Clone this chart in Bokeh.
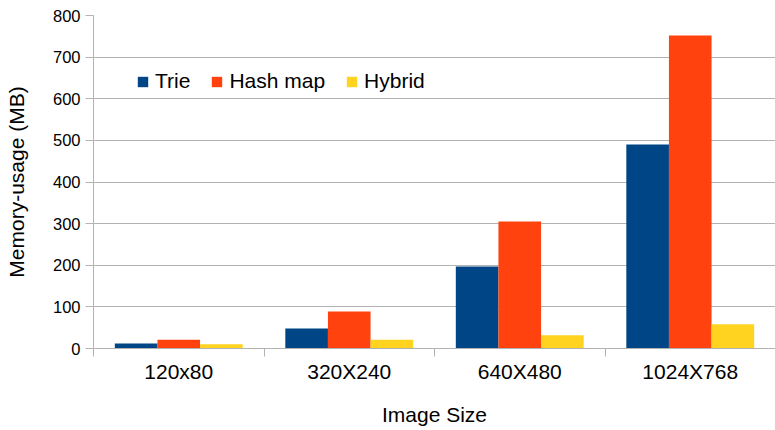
from bokeh.plotting import figure
from bokeh.models import ColumnDataSource, FixedTicker, Legend, LegendItem
from bokeh.embed import file_html
from bokeh.resources import INLINE

# Memory usage (MB) per image size for each data structure
categories = ["120x80", "320X240", "640X480", "1024X768"]
trie = [12, 48, 197, 490]
hash_map = [21, 89, 305, 752]
hybrid = [10, 21, 32, 58]
series_names = ["Trie", "Hash map", "Hybrid"]
y_ticks = [0, 100, 200, 300, 400, 500, 600, 700, 800]

colors = ["#004586", "#ff420e", "#ffd320"]
FONT = "Liberation Sans"
GRID = "#b3b3b3"

n = len(categories)
centers = [i + 0.5 for i in range(n)]
bar_w = 0.25
offsets = [-bar_w, 0.0, bar_w]

p = figure(
    width=775, height=430,
    x_range=(0, n), y_range=(y_ticks[0], y_ticks[-1]),
    output_backend="svg", toolbar_location=None,
    min_border_left=93, min_border_right=0,
    min_border_top=15, min_border_bottom=82,
)
p.outline_line_color = None
p.background_fill_color = "white"

items = []
for name, vals, off, col in zip(series_names, [trie, hash_map, hybrid], offsets, colors):
    src = ColumnDataSource(dict(x=[c + off for c in centers], top=vals))
    r = p.vbar(x="x", top="top", width=bar_w, source=src,
               fill_color=col, line_color=None)
    items.append(LegendItem(label=name, renderers=[r]))

legend = Legend(items=items, orientation="horizontal", location=(43, 255),
                glyph_width=13, glyph_height=13, label_standoff=6, spacing=20,
                padding=0, margin=0, border_line_color=None,
                background_fill_alpha=0, label_text_font=FONT,
                label_text_font_size="21px", label_text_color="#000000")
p.add_layout(legend)

# x axis: category labels centred, separator ticks at group boundaries
p.xaxis.ticker = FixedTicker(ticks=centers, minor_ticks=list(range(n + 1)))
p.xaxis.major_label_overrides = {c: lab for c, lab in zip(centers, categories)}
p.xaxis.major_tick_out = 0
p.xaxis.major_tick_in = 0
p.xaxis.minor_tick_out = 8
p.xaxis.minor_tick_in = 0
p.xaxis.minor_tick_line_color = GRID
p.xaxis.axis_line_color = GRID
p.xaxis.major_label_text_font = FONT
p.xaxis.major_label_text_font_size = "21px"
p.xaxis.major_label_text_color = "#000000"
p.xaxis.major_label_standoff = 3
p.xaxis.axis_label = "Image Size"
p.xaxis.axis_label_text_font = FONT
p.xaxis.axis_label_text_font_size = "21px"
p.xaxis.axis_label_text_font_style = "normal"
p.xaxis.axis_label_text_color = "#000000"
p.xaxis.axis_label_standoff = 17

p.yaxis.ticker = FixedTicker(ticks=y_ticks)
p.yaxis.major_tick_out = 8
p.yaxis.major_tick_in = 0
p.yaxis.major_tick_line_color = GRID
p.yaxis.minor_tick_line_color = None
p.yaxis.axis_line_color = GRID
p.yaxis.major_label_text_font = FONT
p.yaxis.major_label_text_font_size = "16.5px"
p.yaxis.major_label_text_color = "#000000"
p.yaxis.major_label_standoff = 5
p.yaxis.axis_label = "Memory-usage (MB)"
p.yaxis.axis_label_text_font = FONT
p.yaxis.axis_label_text_font_size = "21px"
p.yaxis.axis_label_text_font_style = "normal"
p.yaxis.axis_label_text_color = "#000000"
p.yaxis.axis_label_standoff = 22

p.xgrid.visible = False
p.ygrid.grid_line_color = GRID
p.ygrid.grid_line_width = 1

open("out.html", "w").write(file_html(p, INLINE))
